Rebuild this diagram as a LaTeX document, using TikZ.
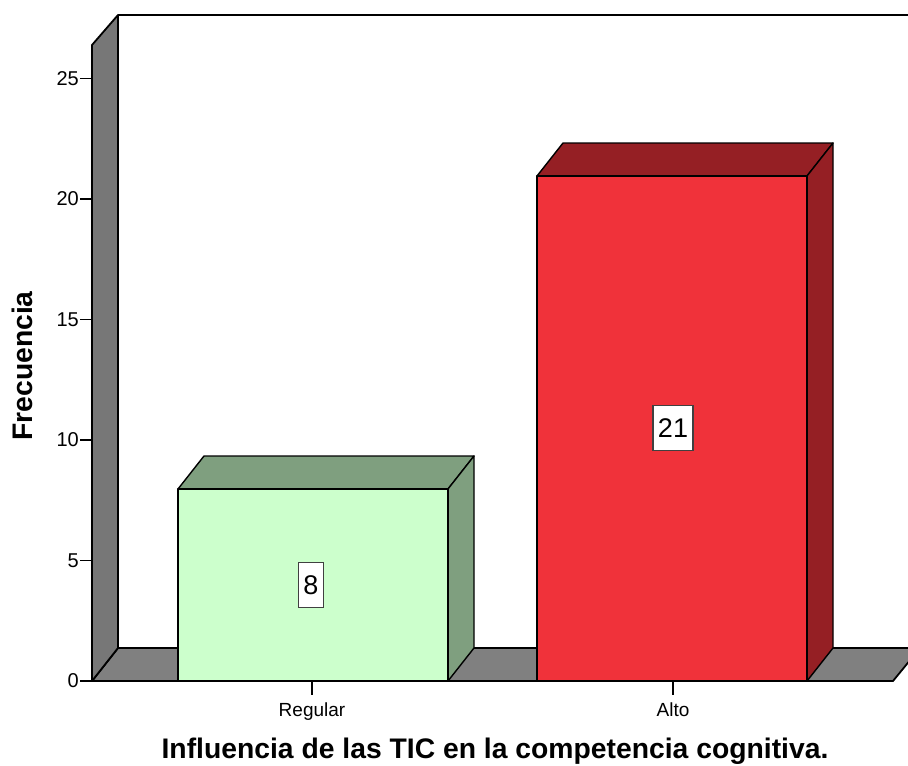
\documentclass[tikz,border=0pt]{standalone}
\usepackage{fontspec}
\setmainfont{Liberation Sans}
\definecolor{wallgray}{HTML}{777777}
\definecolor{floorgray}{HTML}{808080}
\definecolor{regfront}{HTML}{CCFFCC}
\definecolor{regdark}{HTML}{7F9F7F}
\definecolor{altofront}{HTML}{F0323A}
\definecolor{altodark}{HTML}{951F24}
\begin{document}
\begin{tikzpicture}[x=1pt,y=-1pt,
  frame/.style={draw=black,line width=1.8pt,line join=round},
  barline/.style={draw=black,line width=1.4pt,line join=round},
  ticklab/.style={font=\fontsize{20}{22}\selectfont,anchor=east,inner sep=1pt},
  catlab/.style={font=\fontsize{19}{22}\selectfont,inner sep=0pt,anchor=base},
  vallab/.style={font=\fontsize{27}{30}\selectfont,fill=white,draw=black!75,line width=1.5pt,inner xsep=5pt,minimum height=45pt},
  axtitle/.style={font=\fontsize{28.3}{32}\selectfont\bfseries,inner sep=0pt}]
\useasboundingbox (0,0) rectangle (908,766);
\clip (0,0) rectangle (908,766);
% back wall
\fill[white] (118,15) rectangle (908,648);
% floor
\path[frame,fill=floorgray] (92,681) -- (118,648) -- (920,648) -- (893,681) -- cycle;
% left wall
\path[frame,fill=wallgray] (92,681) -- (92,45) -- (118,15) -- (118,648) -- cycle;
\draw[frame] (118,15) -- (930,15);
% Regular bar
\path[barline,fill=regdark] (178,489) -- (204,456) -- (474,456) -- (448,489) -- cycle;
\path[barline,fill=regdark] (448,489) -- (474,456) -- (474,648) -- (448,681) -- cycle;
\path[barline,fill=regfront] (178,489) rectangle (448,681);
% Alto bar
\path[barline,fill=altodark] (537,176) -- (563,143) -- (833,143) -- (807,176) -- cycle;
\path[barline,fill=altodark] (807,176) -- (833,143) -- (833,648) -- (807,681) -- cycle;
\path[barline,fill=altofront] (537,176) rectangle (807,681);
% front floor edge again
\draw[frame] (92,681) -- (893,681);
% y ticks
\foreach \v/\yy in {0/681,5/560.5,10/440,15/319.5,20/199,25/78.5}{
  \draw[line width=1.5pt] (80,\yy) -- (92,\yy);
  \node[ticklab] (t\v) at (80,\yy) {\v};
}
% x ticks
\coordinate (xr) at (312,681);
\coordinate (xa) at (673,681);
\draw[line width=1.5pt] (xr) -- ++(0,14);
\draw[line width=1.5pt] (xa) -- ++(0,14);
\node[catlab] (lreg) at (312,716) {Regular};
\node[catlab] (lalto) at (673,716) {Alto};
% value labels
\node[vallab] (v8) at (311,585) {8};
\node[vallab] (v21) at (673,428) {21};
% titles
\node[axtitle,rotate=90] (ytitle) at (22,366) {Frecuencia};
\node[axtitle] (xtitle) at (495,751) {Influencia de las TIC en la competencia cognitiva.};
\end{tikzpicture}
\end{document}
